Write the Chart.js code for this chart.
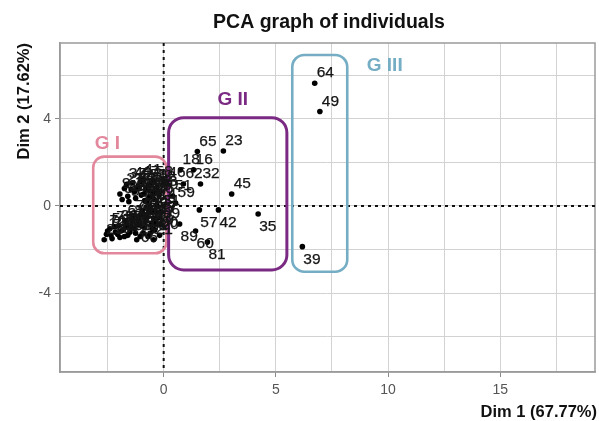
<!DOCTYPE html>
<html>
<head>
<meta charset="utf-8">
<script src="https://cdn.jsdelivr.net/npm/chart.js@4.4.1/dist/chart.umd.min.js"></script>
<style>
  html, body { margin: 0; padding: 0; background: #ffffff; }
  #wrap { width: 599px; height: 421px; }
</style>
</head>
<body>
<div id="wrap"><canvas id="pca" width="599" height="421"></canvas></div>
<script>
// Individuals (row labels) and their coordinates on the first two dimensions
const ids = [
  '9','27','13','40','22','11','30','41','7','15','3','48','26','12','70','55','33',
  '34','37','38','43','47','50','53','54','56','58','63','67','69',
  '1','5','19','24','36','44','52','61','68','74','78','83','85','87','88','2','4',
  '6','8','10','14','17','20','21','25','28','29','31','66',
  '71','72','73','75','77','79','80','82','84','86','90','91','92','93','94','95',
  '96','97','98','99','100','101',
  '65','18','16','62','32','46','51','59','45','35','57','42','89','60','81','23',
  '64','49','39'
];
const dim1 = [
  -1.95,-1.75,-1.60,-1.40,-1.30,-1.15,-1.00,-0.95,-0.80,-0.65,-0.55,-0.45,-0.42,-0.32,-0.20,-1.55,-0.85,
  -1.85,-1.65,-1.45,-1.25,-1.05,-0.90,-0.70,-0.60,-0.50,-0.45,-0.25,-1.20,-0.75,
  -2.55,-2.40,-2.30,-2.15,-2.00,-1.95,-1.80,-1.70,-1.60,-1.45,-1.35,-1.25,-1.10,-0.95,-0.85,-0.75,-0.60,
  -0.55,-0.50,-0.40,-0.30,-0.25,-0.18,-0.45,-1.20,-0.70,-2.65,-0.12,-1.07,
  -2.50,-2.35,-2.20,-2.05,-1.90,-1.75,-1.65,-1.50,-1.40,-1.30,-1.15,-1.00,-0.90,-0.80,-0.65,-0.50,
  -0.45,-0.35,-0.30,-0.12,-0.60,-1.05,
  1.50,0.75,1.33,0.88,1.64,0.12,0.40,0.53,3.03,4.21,1.59,2.44,0.71,1.42,1.95,2.66,
  6.73,6.96,6.18
];
const dim2 = [
  0.55,0.80,0.45,1.06,0.65,0.90,0.50,1.20,0.75,0.40,1.00,0.65,0.30,0.85,0.50,0.20,0.25,
  0.30,1.00,0.75,0.35,1.10,0.55,0.95,0.70,0.45,1.10,0.65,0.80,0.20,
  -1.30,-1.05,-1.50,-1.20,-0.90,-1.45,-1.10,-0.70,-1.35,-0.95,-0.45,-1.25,-0.60,-0.20,-1.00,-0.45,-0.05,
  -0.80,-0.30,-1.10,0.05,-0.55,-1.35,-1.55,-1.55,-1.40,-1.55,-0.25,-0.87,
  -1.15,-1.35,-0.95,-1.30,-1.15,-1.40,-0.95,-1.20,-0.70,-1.05,-0.85,-0.40,-1.25,-0.70,-0.25,-1.05,
  -0.55,-0.80,-0.30,-0.85,-1.25,-1.40,
  2.50,1.66,1.66,1.01,1.01,1.05,0.46,0.14,0.55,-0.37,-0.18,-0.18,-0.83,-1.15,-1.66,2.53,
  5.64,4.34,-1.87
];

// Axis ticks (grid every 2.5 on Dim 1, every 2 on Dim 2)
const xTicks = [-2.5, 0, 2.5, 5, 7.5, 10, 12.5, 15, 17.5];
const yTicks = [-6, -4, -2, 0, 2, 4, 6];

// Clusters: name and extent in (Dim 1, Dim 2)
const groupNames = ['G I', 'G II', 'G III'];
const groupXmin  = [-3.14, 0.22, 5.73];
const groupXmax  = [0.12, 5.49, 8.18];
const groupYmax  = [2.27, 4.06, 6.94];
const groupYmin  = [-2.17, -2.94, -3.02];

// Styling
const FONT = "'Liberation Sans', Arial, sans-serif";
const groupStyle = [
  { color: '#e3879c', width: 2.6, radius: 11, tx: -2.51, ty: 2.87 },
  { color: '#7a2a83', width: 3.0, radius: 15, tx: 3.08,  ty: 4.87 },
  { color: '#74adc4', width: 2.6, radius: 12, tx: 9.85,  ty: 6.44 }
];
// labels written under the point instead of above it
const labelBelow = new Set(['39', '35', '57', '42', '89', '60', '81', '66']);

const decorations = {
  id: 'pcaDecor',
  beforeDatasetsDraw(chart) {
    const { ctx, chartArea: a, scales: { x, y } } = chart;
    ctx.save();
    // panel frame
    ctx.strokeStyle = '#9a9a9a';
    ctx.lineWidth = 1.5;
    ctx.strokeRect(a.left, a.top, a.right - a.left, a.bottom - a.top);
    // origin lines
    ctx.strokeStyle = '#111';
    ctx.lineWidth = 2;
    ctx.setLineDash([3, 4]);
    ctx.beginPath();
    ctx.moveTo(x.getPixelForValue(0), a.top);
    ctx.lineTo(x.getPixelForValue(0), a.bottom);
    ctx.moveTo(a.left, y.getPixelForValue(0));
    ctx.lineTo(a.right, y.getPixelForValue(0));
    ctx.stroke();
    ctx.setLineDash([]);
    // cluster boxes
    groupNames.forEach((g, i) => {
      const s = groupStyle[i];
      const x1 = x.getPixelForValue(groupXmin[i]);
      const x2 = x.getPixelForValue(groupXmax[i]);
      const y1 = y.getPixelForValue(groupYmax[i]);
      const y2 = y.getPixelForValue(groupYmin[i]);
      ctx.strokeStyle = s.color;
      ctx.lineWidth = s.width;
      ctx.beginPath();
      ctx.roundRect(x1, y1, x2 - x1, y2 - y1, s.radius);
      ctx.stroke();
    });
    ctx.restore();
  },
  afterDatasetsDraw(chart) {
    const { ctx, scales: { x, y } } = chart;
    ctx.save();
    // individual labels
    ctx.fillStyle = '#151515';
    ctx.strokeStyle = '#151515';
    ctx.lineWidth = 0.25;
    ctx.font = `15.5px ${FONT}`;
    ctx.textAlign = 'left';
    ctx.textBaseline = 'alphabetic';
    ids.forEach((id, i) => {
      const px = x.getPixelForValue(dim1[i]);
      const py = y.getPixelForValue(dim2[i]);
      const tx = labelBelow.has(id) ? px + 1 : px + 2;
      const ty = labelBelow.has(id) ? py + 17 : py - 6;
      ctx.fillText(id, tx, ty);
      ctx.strokeText(id, tx, ty);
    });
    // cluster names
    ctx.font = `bold 19px ${FONT}`;
    ctx.textAlign = 'center';
    ctx.textBaseline = 'middle';
    groupNames.forEach((g, i) => {
      const s = groupStyle[i];
      ctx.fillStyle = s.color;
      ctx.fillText(g, x.getPixelForValue(s.tx), y.getPixelForValue(s.ty));
    });
    ctx.restore();
  },
  afterDraw(chart) {
    const { ctx } = chart;
    ctx.save();
    ctx.fillStyle = '#111';
    ctx.font = `bold 19.5px ${FONT}`;
    ctx.textAlign = 'center';
    ctx.textBaseline = 'middle';
    ctx.fillText('PCA graph of individuals', 329, 23);
    ctx.font = `bold 16.5px ${FONT}`;
    ctx.textAlign = 'right';
    ctx.fillText('Dim 1 (67.77%)', 597, 412);
    ctx.translate(24, 43);
    ctx.rotate(-Math.PI / 2);
    ctx.fillText('Dim 2 (17.62%)', 0, 0);
    ctx.restore();
  }
};

const tickFont = { family: FONT, size: 14 };
const minorTransparent = (step) => (ctx) =>
  (ctx.tick && Math.abs(ctx.tick.value % step) < 1e-9) ? '#8a8a8a' : 'rgba(0,0,0,0)';

new Chart(document.getElementById('pca'), {
  type: 'scatter',
  data: {
    datasets: [{
      data: ids.map((id, i) => ({ x: dim1[i], y: dim2[i] })),
      backgroundColor: '#000',
      borderColor: '#000',
      pointRadius: 2.8,
      pointBorderWidth: 0
    }]
  },
  options: {
    responsive: false,
    animation: false,
    devicePixelRatio: 1,
    layout: { padding: { top: 43, right: 2, left: 0, bottom: 0 } },
    plugins: { legend: { display: false }, tooltip: { enabled: false }, title: { display: false } },
    scales: {
      x: {
        type: 'linear', min: -4.62, max: 19.22,
        afterBuildTicks: (s) => { s.ticks = xTicks.map(v => ({ value: v })); },
        afterFit: (s) => { s.height = 49; },
        ticks: {
          autoSkip: false, maxRotation: 0, padding: 5, color: '#555', font: tickFont,
          callback: (v) => (v % 5 === 0 ? String(v) : '')
        },
        grid: { color: '#d2d2d2', lineWidth: 1, tickLength: 5, tickColor: minorTransparent(5) },
        border: { color: '#9a9a9a', width: 1.5 }
      },
      y: {
        type: 'linear', min: -7.63, max: 7.49,
        afterBuildTicks: (s) => { s.ticks = yTicks.map(v => ({ value: v })); },
        afterFit: (s) => { s.width = 60; },
        ticks: {
          autoSkip: false, padding: 4, color: '#555', font: tickFont,
          callback: (v) => (v % 4 === 0 ? String(v) : '')
        },
        grid: { color: '#d2d2d2', lineWidth: 1, tickLength: 5, tickColor: minorTransparent(4) },
        border: { color: '#9a9a9a', width: 1.5 }
      }
    }
  },
  plugins: [decorations]
});
</script>
</body>
</html>
